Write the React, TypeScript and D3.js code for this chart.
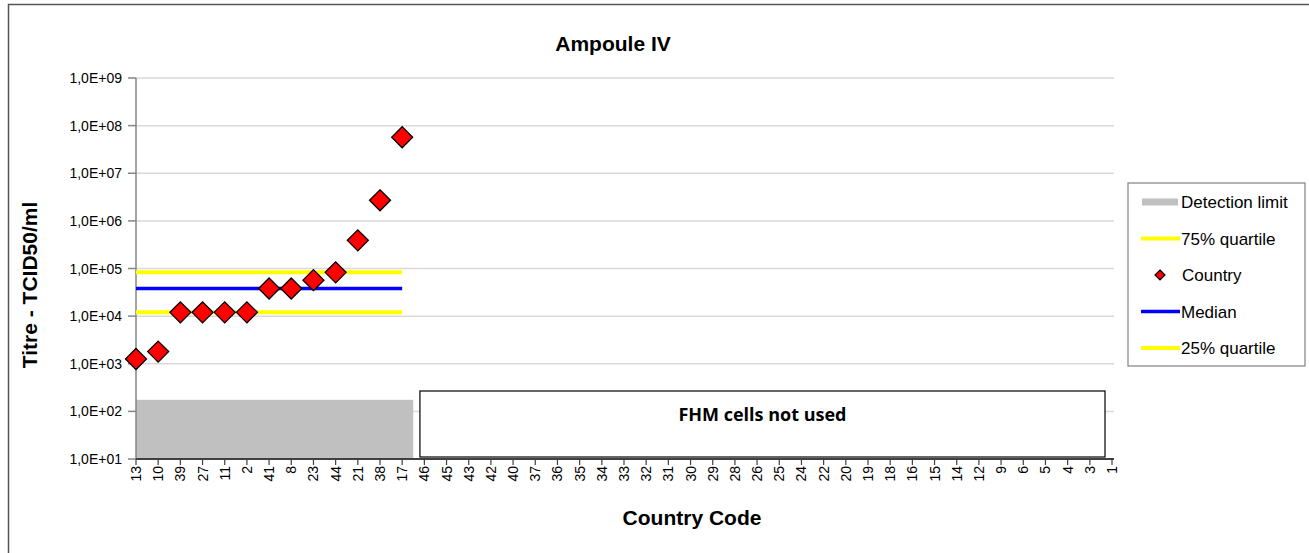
import React from "react";
import * as d3 from "d3";

const categories = ["13","10","39","27","11","2","41","8","23","44","21","38","17","46","45","43","42","40","37","36","35","34","33","32","31","30","29","28","26","25","24","22","20","19","18","16","15","14","12","9","6","5","4","3","1"];
const countryCodes = ["13","10","39","27","11","2","41","8","23","44","21","38","17"];
const countryValues = [1.26e3, 1.8e3, 1.2e4, 1.2e4, 1.2e4, 1.2e4, 3.8e4, 3.8e4, 5.7e4, 8.3e4, 3.9e5, 2.7e6, 5.7e7];
const quartile75 = 8.3e4;
const medianValue = 3.8e4;
const quartile25 = 1.2e4;
const detectionLimit = 1.75e2;
const yTicks = [1e1, 1e2, 1e3, 1e4, 1e5, 1e6, 1e7, 1e8, 1e9];
const legendItems = ["Detection limit", "75% quartile", "Country", "Median", "25% quartile"];

const fmt = (v: number) => {
  const e = Math.round(Math.log10(v));
  return "1,0E+" + (e < 10 ? "0" + e : String(e));
};

export default function App() {
  const W = 1309, H = 553;
  const left = 136, right = 1112, top = 78, bottom = 459;
  const x = d3.scalePoint<string>().domain(categories).range([left, right]).padding(0);
  const y = d3.scaleLog().domain([10, 1e9]).range([bottom, top]);
  const step = x.step();
  const firstX = x(countryCodes[0])!;
  const lastX = x(countryCodes[countryCodes.length - 1])!;
  const font = "Arial, 'Liberation Sans', sans-serif";
  const diamond = (cx: number, cy: number, r: number) =>
    `M${cx},${cy - r}L${cx + r},${cy}L${cx},${cy + r}L${cx - r},${cy}Z`;
  const fhmLeft = lastX + step * 0.8;
  const fhmRight = right - 7;
  const legendX = 1128, legendY = 183;
  const legendRowY = (i: number) => 202 + i * 36.5;

  return (
    <svg width={W} height={H} style={{ position: "absolute", left: 0, top: 0, background: "#fff" }} fontFamily={font}>
      <rect x={8.5} y={4.5} width={1320} height={600} fill="#fff" stroke="#555" strokeWidth={1.5} />
      <text x={613} y={51} textAnchor="middle" fontSize={21} fontWeight="bold">Ampoule IV</text>

      {/* grid */}
      {yTicks.map((t) => (
        <line key={"g" + t} x1={left} x2={right + 2} y1={y(t)} y2={y(t)} stroke="#d9d9d9" strokeWidth={1.5} />
      ))}

      {/* detection limit */}
      <rect x={firstX} y={y(detectionLimit)} width={lastX + step / 2 - firstX} height={bottom - y(detectionLimit)} fill="#c0c0c0" />

      {/* FHM box */}
      <rect x={fhmLeft} y={391} width={fhmRight - fhmLeft} height={66} fill="#fff" stroke="#000" strokeWidth={1.2} />
      <text x={(fhmLeft + fhmRight) / 2} y={421} textAnchor="middle" fontSize={18} fontWeight="bold" fontFamily="'Open Sans', Arial, sans-serif">FHM cells not used</text>

      {/* axes */}
      <line x1={left} x2={left} y1={top} y2={bottom} stroke="#868686" strokeWidth={1.5} />
      {yTicks.map((t) => (
        <g key={"yt" + t}>
          <line x1={left - 8} x2={left} y1={y(t)} y2={y(t)} stroke="#868686" strokeWidth={1.5} />
          <text x={left - 14} y={y(t) + 5} textAnchor="end" fontSize={14}>{fmt(t)}</text>
        </g>
      ))}
      <line x1={left} x2={right + 2} y1={bottom} y2={bottom} stroke="#404040" strokeWidth={2} />
      {categories.map((c) => (
        <g key={"xt" + c}>
          <line x1={x(c)!} x2={x(c)!} y1={bottom} y2={bottom + 6} stroke="#404040" strokeWidth={1.2} />
          <text transform={`translate(${x(c)! + 5},${bottom + 7}) rotate(-90)`} textAnchor="end" fontSize={14}>{c}</text>
        </g>
      ))}

      {/* quartile lines */}
      <line x1={firstX} x2={lastX} y1={y(quartile75)} y2={y(quartile75)} stroke="#ffff00" strokeWidth={4} />
      <line x1={firstX} x2={lastX} y1={y(medianValue)} y2={y(medianValue)} stroke="#0000ff" strokeWidth={3.5} />
      <line x1={firstX} x2={lastX} y1={y(quartile25)} y2={y(quartile25)} stroke="#ffff00" strokeWidth={4} />

      {/* points */}
      {countryCodes.map((c, i) => (
        <path key={"p" + c} d={diamond(x(c)!, y(countryValues[i]), 10.5)} fill="#ff0000" stroke="#000" strokeWidth={1.3} />
      ))}

      {/* axis titles */}
      <text transform={`translate(37,285) rotate(-90)`} textAnchor="middle" fontSize={21} fontWeight="bold">Titre - TCID50/ml</text>
      <text x={692} y={525} textAnchor="middle" fontSize={21} fontWeight="bold">Country Code</text>

      {/* legend */}
      <rect x={legendX} y={legendY} width={177} height={183} fill="#fff" stroke="#808080" strokeWidth={1.2} />
      <rect x={1142} y={legendRowY(0) - 3.5} width={36} height={7} fill="#c0c0c0" />
      <line x1={1141} x2={1180} y1={legendRowY(1)} y2={legendRowY(1)} stroke="#ffff00" strokeWidth={4} />
      <path d={diamond(1160, legendRowY(2), 5)} fill="#ff0000" stroke="#000" strokeWidth={1.2} />
      <line x1={1141} x2={1180} y1={legendRowY(3)} y2={legendRowY(3)} stroke="#0000ff" strokeWidth={3.5} />
      <line x1={1141} x2={1180} y1={legendRowY(4)} y2={legendRowY(4)} stroke="#ffff00" strokeWidth={4} />
      {legendItems.map((t, i) => (
        <text key={t} x={i === 2 ? 1182 : 1181} y={legendRowY(i) + 6} fontSize={17}>{t}</text>
      ))}
    </svg>
  );
}
